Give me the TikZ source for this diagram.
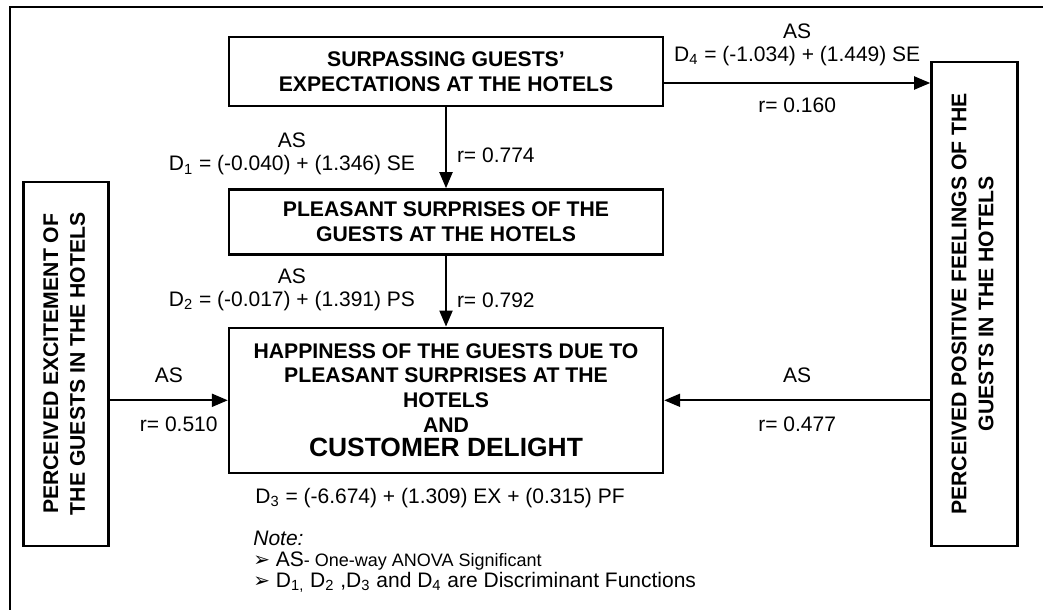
\documentclass[tikz,border=0pt]{standalone}
\usepackage{fontspec}
\setmainfont{Liberation Sans}
\newfontfamily\arrowfont{DejaVu Sans}
\usepackage{tikz}
\usetikzlibrary{arrows.meta, positioning, calc}

\begin{document}
\begin{tikzpicture}[
    x=0.5pt, y=-0.5pt,
    box_node/.style={rectangle, draw, line width=1.2pt, align=center, minimum width=217pt, inner sep=2pt, font=\bfseries\fontsize{10.6}{12.5}\selectfont},
    side_node/.style={rectangle, draw, line width=1.2pt, inner sep=2pt, font=\bfseries\fontsize{10.6}{13.5}\selectfont},
    label_text/.style={inner sep=1pt, align=center, font=\fontsize{10.5}{11.5}\selectfont},
    arrow/.style={-{Triangle[length=8pt, width=6.5pt]}, line width=1pt}
]
\useasboundingbox (0,0) rectangle (1043,610);

% outer frame, cut off at the right and the bottom
\draw[line width=1pt] (1043,7) -- (10,7) -- (10,610);

% Centre column
\node[box_node, minimum height=34.5pt] (surpass) at (446,71.5) {SURPASSING GUESTS'\\EXPECTATIONS AT THE HOTELS};
\node[box_node, minimum height=32.5pt, below=40.5pt of surpass] (pleasant) {PLEASANT SURPRISES OF THE\\GUESTS AT THE HOTELS};
\node[box_node, minimum height=72.5pt, below=35.5pt of pleasant, font=\bfseries\fontsize{10.6}{12.3}\selectfont] (happy) {HAPPINESS OF THE GUESTS DUE TO\\PLEASANT SURPRISES AT THE\\HOTELS\\AND\\{\fontsize{13.2}{15}\selectfont CUSTOMER DELIGHT}};

% Side boxes
\node[side_node, minimum width=42.5pt, minimum height=182pt, left=59pt of happy, yshift=18.25pt] (excite) {\rotatebox{90}{\begin{tabular}{@{}c@{}}PERCEIVED EXCITEMENT OF\\THE GUESTS IN THE HOTELS\end{tabular}}};
\node[side_node, minimum width=43pt, minimum height=242pt, right=133pt of happy, yshift=48.25pt] (feel) {\rotatebox{90}{\begin{tabular}{@{}c@{}}PERCEIVED POSITIVE FEELINGS OF THE\\GUESTS IN THE HOTELS\end{tabular}}};

% Connections
\draw[arrow] (surpass) -- (pleasant)
    node[label_text, pos=0.59, right=4pt] (rone) {r= 0.774}
    node[label_text, pos=1, anchor=south east, xshift=-14pt, yshift=5pt] (done) {AS\\D\textsubscript{1} = (-0.040) + (1.346) SE};
\draw[arrow] (pleasant) -- (happy)
    node[label_text, pos=0.63, right=4pt] (rtwo) {r= 0.792}
    node[label_text, pos=1, anchor=south east, xshift=-14pt, yshift=6.5pt] (dtwo) {AS\\D\textsubscript{2} = (-0.017) + (1.391) PS};

\coordinate (dfourstart) at ([yshift=-5.75pt]surpass.east);
\draw[arrow] (dfourstart) -- (dfourstart -| feel.west)
    node[label_text, midway, above=7pt] (dfour) {AS\\D\textsubscript{4} = (-1.034) + (1.449) SE}
    node[label_text, midway, below=6pt] (rfour) {r= 0.160};

\draw[arrow] (excite.east |- happy.west) -- (happy.west)
    node[label_text, midway, above=7.5pt] (asex) {AS}
    node[label_text, midway, below=7pt, xshift=5pt] (rex) {r= 0.510};
\draw[arrow] (feel.west |- happy.east) -- (happy.east)
    node[label_text, midway, above=7.5pt] (aspf) {AS}
    node[label_text, midway, below=7pt] (rpf) {r= 0.477};

\node[label_text, below=6pt of happy, xshift=-3pt] (dthree) {D\textsubscript{3} = (-6.674) + (1.309) EX + (0.315) PF};

% Note
\node[label_text, align=left, font=\fontsize{10.5}{10.5}\selectfont, below=9pt of dthree.south west, anchor=north west, xshift=-1pt] (note) {\textit{Note:}\\
{\arrowfont\fontsize{10}{10}\selectfont ➢}\ AS{\fontsize{9}{9}\selectfont - One-way ANOVA Significant}\\
{\arrowfont\fontsize{10}{10}\selectfont ➢}\ D\textsubscript{1,} D\textsubscript{2} ,D\textsubscript{3} and D\textsubscript{4} are Discriminant Functions};

\end{tikzpicture}
\end{document}
